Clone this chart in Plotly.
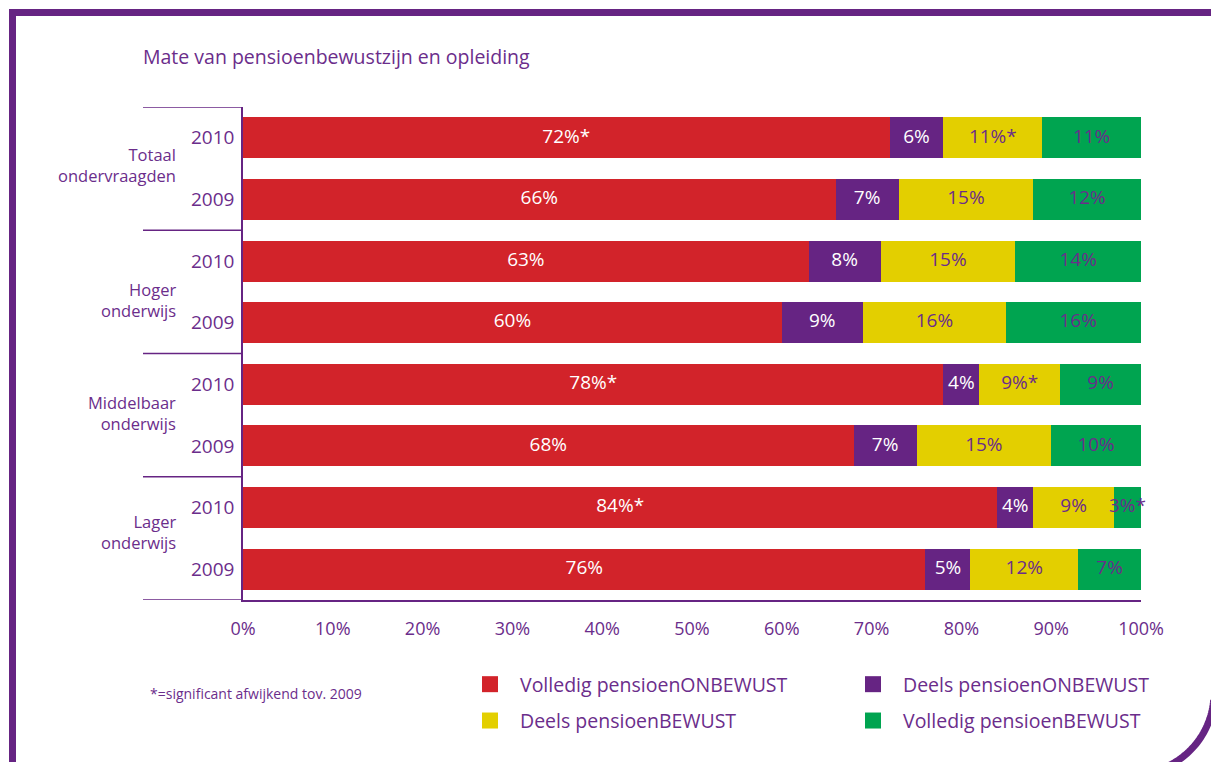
import math
import plotly.graph_objects as go

# ---- data -------------------------------------------------------------
groups = ["Totaal<br>ondervraagden", "Hoger<br>onderwijs",
          "Middelbaar<br>onderwijs", "Lager<br>onderwijs"]
years = ["2010", "2009", "2010", "2009", "2010", "2009", "2010", "2009"]

series_names = ["Volledig pensioenONBEWUST", "Deels pensioenONBEWUST",
                "Deels pensioenBEWUST", "Volledig pensioenBEWUST"]

volledig_onbewust = [72, 66, 63, 60, 78, 68, 84, 76]
deels_onbewust = [6, 7, 8, 9, 4, 7, 4, 5]
deels_bewust = [11, 15, 15, 16, 9, 15, 9, 12]
volledig_bewust = [11, 12, 14, 16, 9, 10, 3, 7]

# significance markers (* = significant afwijkend tov. 2009)
sig_volledig_onbewust = [True, False, False, False, True, False, True, False]
sig_deels_onbewust = [False] * 8
sig_deels_bewust = [True, False, False, False, True, False, False, False]
sig_volledig_bewust = [False, False, False, False, False, False, True, False]

x_ticks = [0, 10, 20, 30, 40, 50, 60, 70, 80, 90, 100]

# ---- style ------------------------------------------------------------
W, H = 1211, 762
PURPLE = "#662483"
TEXT = "#6B2D8B"
FONT = "Open Sans"
colors = ["#D2232A", "#662483", "#E3CF00", "#00A450"]
label_colors = ["white", "white", TEXT, TEXT]
# vertical pixel centre of each group label
group_label_px = [165, 300, 413, 532]

series = [volledig_onbewust, deels_onbewust, deels_bewust, volledig_bewust]
sigs = [sig_volledig_onbewust, sig_deels_onbewust, sig_deels_bewust,
        sig_volledig_bewust]
rows = list(range(len(years)))


def px_x(p):
    return p / W


def px_y(p):
    return 1 - p / H


fig = go.Figure()

# stacked bars
for name, vals, col in zip(series_names, series, colors):
    fig.add_trace(go.Bar(
        y=rows, x=vals, orientation="h", name=name,
        marker=dict(color=col, line=dict(width=0)),
        width=0.665, showlegend=False, hoverinfo="skip",
    ))

# value labels at the middle of every segment
cum = [0] * len(rows)
for vals, sig, lc in zip(series, sigs, label_colors):
    mids = [c + v / 2 for c, v in zip(cum, vals)]
    texts = [f"{v}%" + ("*" if s else "") for v, s in zip(vals, sig)]
    fig.add_trace(go.Scatter(
        x=mids, y=rows, mode="text", text=texts,
        textfont=dict(family=FONT, size=19, color=lc),
        textposition="middle center", showlegend=False,
        hoverinfo="skip", cliponaxis=False,
    ))
    cum = [c + v for c, v in zip(cum, vals)]

# legend entries (two columns)
legend_of = ["legend", "legend2", "legend", "legend2"]
for i, (name, col) in enumerate(zip(series_names, colors)):
    fig.add_trace(go.Scatter(
        x=[None], y=[None], mode="markers", name=name,
        marker=dict(symbol="square", size=16, color=col),
        legend=legend_of[i], legendgroup=name, showlegend=True,
    ))

# group labels on the left
for g, yp in zip(groups, group_label_px):
    fig.add_annotation(
        x=px_x(178), xref="paper", xanchor="right",
        y=px_y(yp), yref="paper", yanchor="middle",
        text=g, showarrow=False, align="right",
        font=dict(family=FONT, size=16.5, color=TEXT),
    )

# group separator lines
for k in range(len(groups) + 1):
    fig.add_shape(type="line", xref="paper", yref="y",
                  x0=px_x(143), x1=px_x(243), y0=k * 2 - 0.5, y1=k * 2 - 0.5,
                  line=dict(color=PURPLE, width=1.5))

# title and footnote
fig.add_annotation(x=px_x(141), y=px_y(57), xref="paper", yref="paper",
                   xanchor="left", yanchor="middle", showarrow=False,
                   text="Mate van pensioenbewustzijn en opleiding",
                   font=dict(family=FONT, size=19.5, color=TEXT))
fig.add_annotation(x=px_x(148), y=px_y(693), xref="paper", yref="paper",
                   xanchor="left", yanchor="middle", showarrow=False,
                   text="*=significant afwijkend tov. 2009",
                   font=dict(family=FONT, size=14, color=TEXT))

# page frame: top and left rule plus rounded corner bottom-right
fig.add_shape(type="line", xref="paper", yref="paper",
              x0=px_x(9), x1=1, y0=px_y(12.5), y1=px_y(12.5),
              line=dict(color=PURPLE, width=7))
fig.add_shape(type="line", xref="paper", yref="paper",
              x0=px_x(12.5), x1=px_x(12.5), y0=px_y(9), y1=0,
              line=dict(color=PURPLE, width=7))
cx, cy, r = 1133, 693, 81
pts = []
for k in range(41):
    a = math.radians(5 + k * 75 / 40)
    pts.append((cx + r * math.cos(a), cy + r * math.sin(a)))
path = "M " + " L ".join(f"{px_x(x):.5f},{px_y(y):.5f}" for x, y in pts)
fig.add_shape(type="path", xref="paper", yref="paper", path=path,
              line=dict(color=PURPLE, width=7))

legend_common = dict(
    orientation="v", xanchor="left", yanchor="top",
    font=dict(family=FONT, size=19.5, color=TEXT),
    bgcolor="rgba(0,0,0,0)", tracegroupgap=8, itemclick=False,
    itemwidth=50,
)

fig.update_layout(
    template="none",
    width=W, height=H, autosize=False,
    margin=dict(l=0, r=0, t=0, b=0, pad=0, autoexpand=False),
    paper_bgcolor="white", plot_bgcolor="white",
    barmode="stack", bargap=0,
    font=dict(family=FONT, color=TEXT),
    xaxis=dict(
        domain=[px_x(243), px_x(1141)], range=[0, 100], automargin=False,
        tickvals=x_ticks, ticktext=[f"{t}%" for t in x_ticks],
        showgrid=False, zeroline=False, showline=True,
        linecolor=PURPLE, linewidth=1.5, ticks="", ticklabelstandoff=12,
        tickfont=dict(family=FONT, size=18, color=TEXT), fixedrange=True,
    ),
    yaxis=dict(
        domain=[px_y(600), px_y(107)], range=[7.5, -0.5], automargin=False,
        tickvals=rows, ticktext=years,
        showgrid=False, zeroline=False, showline=True,
        linecolor=PURPLE, linewidth=1.5, ticks="", ticklabelstandoff=3,
        tickfont=dict(family=FONT, size=19, color=TEXT), fixedrange=True,
    ),
    legend=dict(x=px_x(460), y=px_y(665), **legend_common),
    legend2=dict(x=px_x(843), y=px_y(665), **legend_common),
)

# full-bleed page: no body margin, no scrollbars, figure at its set size
page_script = """
document.documentElement.style.margin = '0';
document.documentElement.style.overflow = 'hidden';
document.body.style.margin = '0';
document.body.style.overflow = 'hidden';
var gd = document.getElementById('{plot_id}');
Plotly.relayout(gd, {width: %d, height: %d});
""" % (W, H)

fig.write_html("out.html", post_script=page_script)
